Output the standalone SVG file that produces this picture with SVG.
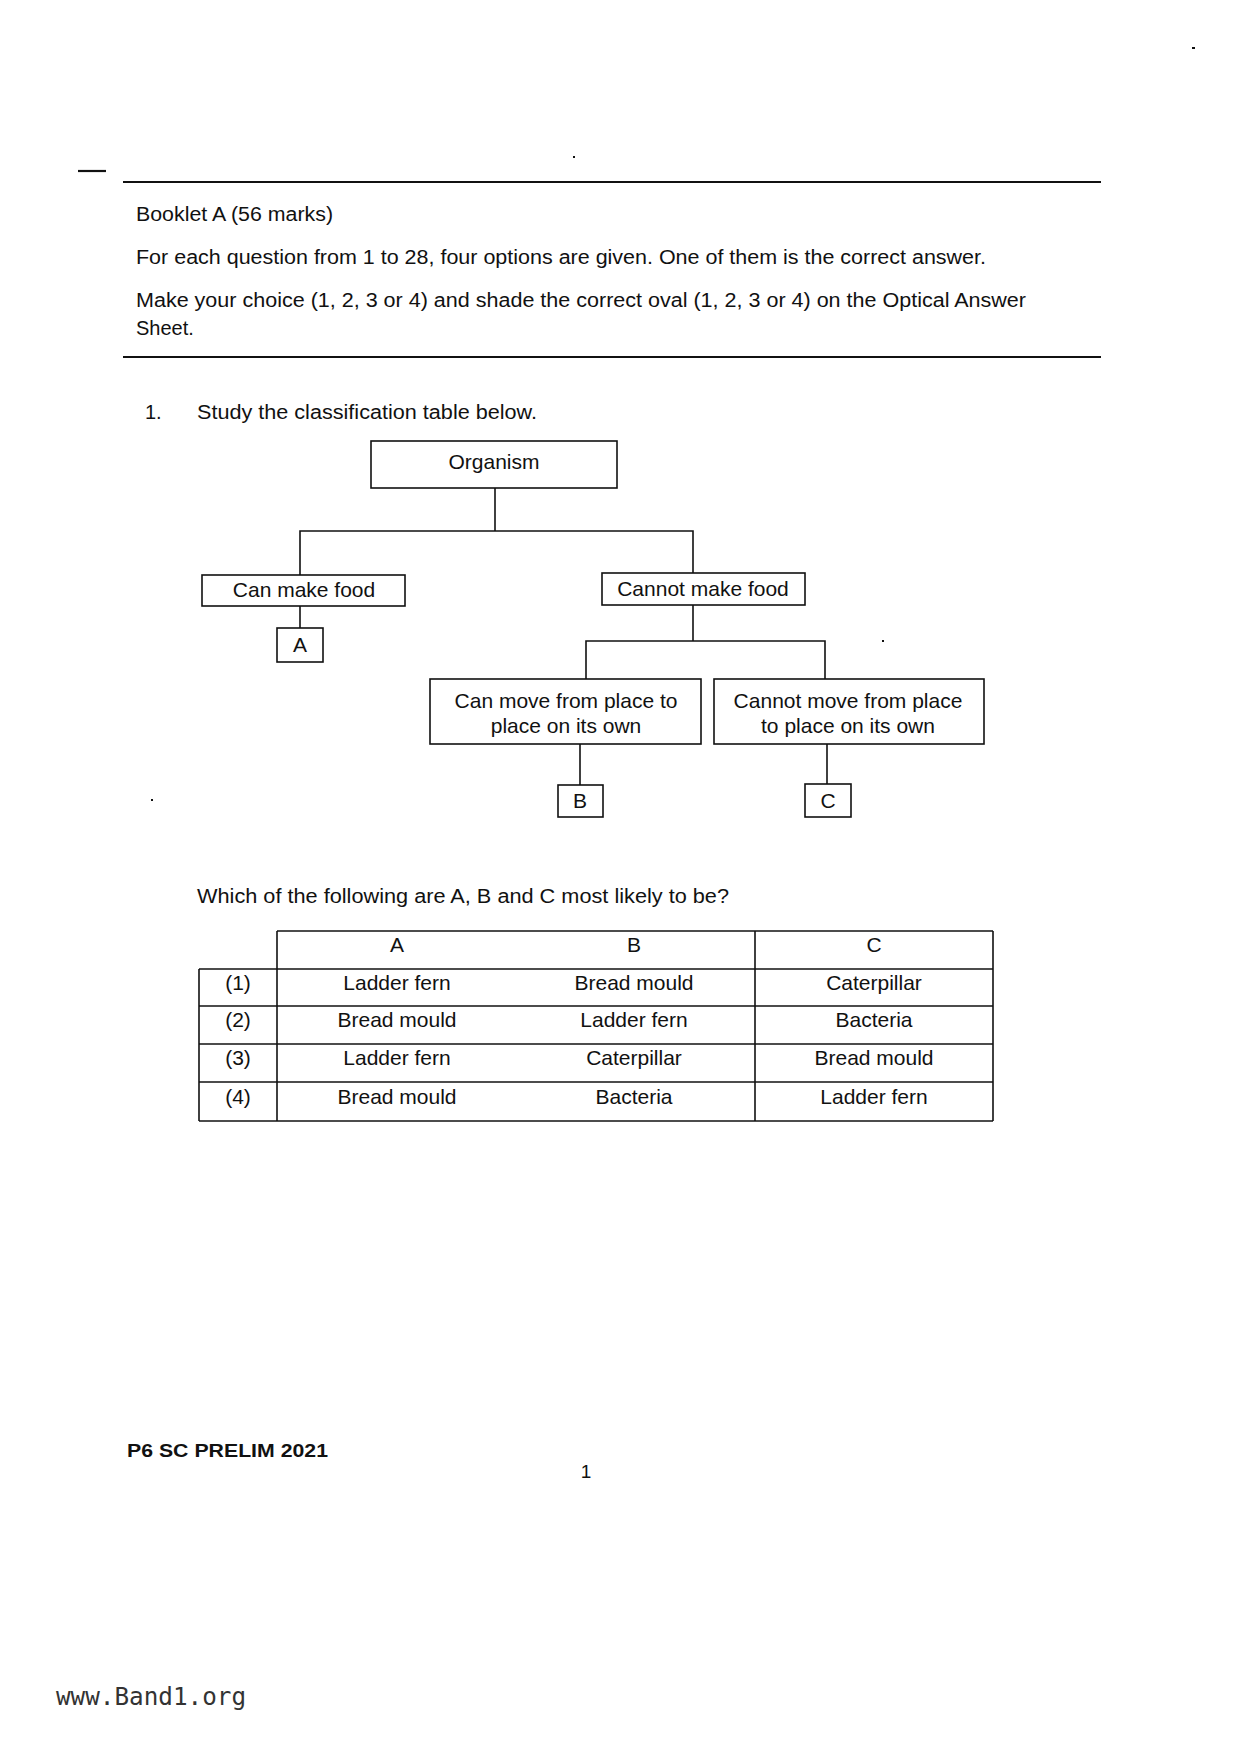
<svg xmlns="http://www.w3.org/2000/svg" width="1239" height="1754" viewBox="0 0 1239 1754">
<style>
.t{font-family:"Liberation Sans",Arial,sans-serif;fill:#111;}
.b{font-size:20px;}
.d{font-size:21px;text-anchor:middle;}
.box{fill:none;stroke:#111;stroke-width:1.6;}
.ln{fill:none;stroke:#111;stroke-width:1.6;}
.rule{stroke:#111;stroke-width:2.2;}
.tb{stroke:#111;stroke-width:1.6;}
</style>
<rect width="1239" height="1754" fill="#fff"/>
<!-- page header -->
<line x1="78" y1="171" x2="106" y2="171" class="rule"/>
<rect x="1192" y="47" width="3" height="2" fill="#111"/>
<rect x="573" y="156" width="2" height="2" fill="#111"/>
<line x1="123" y1="182" x2="1101" y2="182" class="rule"/>
<text class="t b" x="136" y="221" textLength="197" lengthAdjust="spacingAndGlyphs">Booklet A (56 marks)</text>
<text class="t b" x="136" y="264" textLength="850" lengthAdjust="spacingAndGlyphs">For each question from 1 to 28, four options are given. One of them is the correct answer.</text>
<text class="t b" x="136" y="307" textLength="890" lengthAdjust="spacingAndGlyphs">Make your choice (1, 2, 3 or 4) and shade the correct oval (1, 2, 3 or 4) on the Optical Answer</text>
<text class="t b" x="136" y="335">Sheet.</text>
<line x1="123" y1="357" x2="1101" y2="357" class="rule"/>
<text class="t b" x="145" y="419">1.</text>
<text class="t b" x="197" y="419" textLength="340" lengthAdjust="spacingAndGlyphs">Study the classification table below.</text>
<!-- connectors -->
<g id="connectors" class="ln">
<path d="M495 488 V531"/>
<path d="M300 575 V531 H693 V573"/>
<path d="M300 606 V628"/>
<path d="M693 605 V641"/>
<path d="M586 679 V641 H825 V679"/>
<path d="M580 744 V785"/>
<path d="M827 744 V784"/>
</g>
<rect x="882" y="640" width="2" height="2" fill="#111"/>
<rect x="151" y="799" width="2" height="2" fill="#111"/>
<!-- nodes -->
<g id="n-organism">
<rect class="box" x="371" y="441" width="246" height="47"/>
<text class="t d" x="494" y="469">Organism</text>
</g>
<g id="n-canmake">
<rect class="box" x="202" y="575" width="203" height="31"/>
<text class="t d" x="304" y="597">Can make food</text>
</g>
<g id="n-cannotmake">
<rect class="box" x="602" y="573" width="203" height="32"/>
<text class="t d" x="703" y="596">Cannot make food</text>
</g>
<g id="n-A">
<rect class="box" x="277" y="628" width="46" height="34"/>
<text class="t d" x="300" y="652">A</text>
</g>
<g id="n-canmove">
<rect class="box" x="430" y="679" width="271" height="65"/>
<text class="t d" x="566" y="708">Can move from place to</text>
<text class="t d" x="566" y="733">place on its own</text>
</g>
<g id="n-cannotmove">
<rect class="box" x="714" y="679" width="270" height="65"/>
<text class="t d" x="848" y="708">Cannot move from place</text>
<text class="t d" x="848" y="733">to place on its own</text>
</g>
<g id="n-B">
<rect class="box" x="558" y="785" width="45" height="32"/>
<text class="t d" x="580" y="808">B</text>
</g>
<g id="n-C">
<rect class="box" x="805" y="784" width="46" height="33"/>
<text class="t d" x="828" y="808">C</text>
</g>
<!-- question -->
<text class="t b" x="197" y="903" textLength="532" lengthAdjust="spacingAndGlyphs">Which of the following are A, B and C most likely to be?</text>
<!-- table -->
<g id="table">
<line class="tb" x1="277" y1="931" x2="993" y2="931"/>
<line class="tb" x1="199" y1="969" x2="993" y2="969"/>
<line class="tb" x1="199" y1="1006" x2="993" y2="1006"/>
<line class="tb" x1="199" y1="1044" x2="993" y2="1044"/>
<line class="tb" x1="199" y1="1082" x2="993" y2="1082"/>
<line class="tb" x1="199" y1="1121" x2="993" y2="1121"/>
<line class="tb" x1="199" y1="969" x2="199" y2="1121"/>
<line class="tb" x1="277" y1="931" x2="277" y2="1121"/>
<line class="tb" x1="755" y1="931" x2="755" y2="1121"/>
<line class="tb" x1="993" y1="931" x2="993" y2="1121"/>
<text class="t d" x="397" y="952">A</text>
<text class="t d" x="634" y="952">B</text>
<text class="t d" x="874" y="952">C</text>
<text class="t d" x="238" y="990">(1)</text>
<text class="t d" x="397" y="990">Ladder fern</text>
<text class="t d" x="634" y="990">Bread mould</text>
<text class="t d" x="874" y="990">Caterpillar</text>
<text class="t d" x="238" y="1027">(2)</text>
<text class="t d" x="397" y="1027">Bread mould</text>
<text class="t d" x="634" y="1027">Ladder fern</text>
<text class="t d" x="874" y="1027">Bacteria</text>
<text class="t d" x="238" y="1065">(3)</text>
<text class="t d" x="397" y="1065">Ladder fern</text>
<text class="t d" x="634" y="1065">Caterpillar</text>
<text class="t d" x="874" y="1065">Bread mould</text>
<text class="t d" x="238" y="1104">(4)</text>
<text class="t d" x="397" y="1104">Bread mould</text>
<text class="t d" x="634" y="1104">Bacteria</text>
<text class="t d" x="874" y="1104">Ladder fern</text>
</g>
<!-- footer -->
<text class="t" x="127" y="1457" font-size="19" font-weight="bold" textLength="201" lengthAdjust="spacingAndGlyphs">P6 SC PRELIM 2021</text>
<text class="t" x="586" y="1478" font-size="19" text-anchor="middle">1</text>
<text x="56" y="1705" font-family="'DejaVu Sans Mono',monospace" font-size="24" fill="#333" textLength="190" lengthAdjust="spacingAndGlyphs">www.Band1.org</text>
</svg>
